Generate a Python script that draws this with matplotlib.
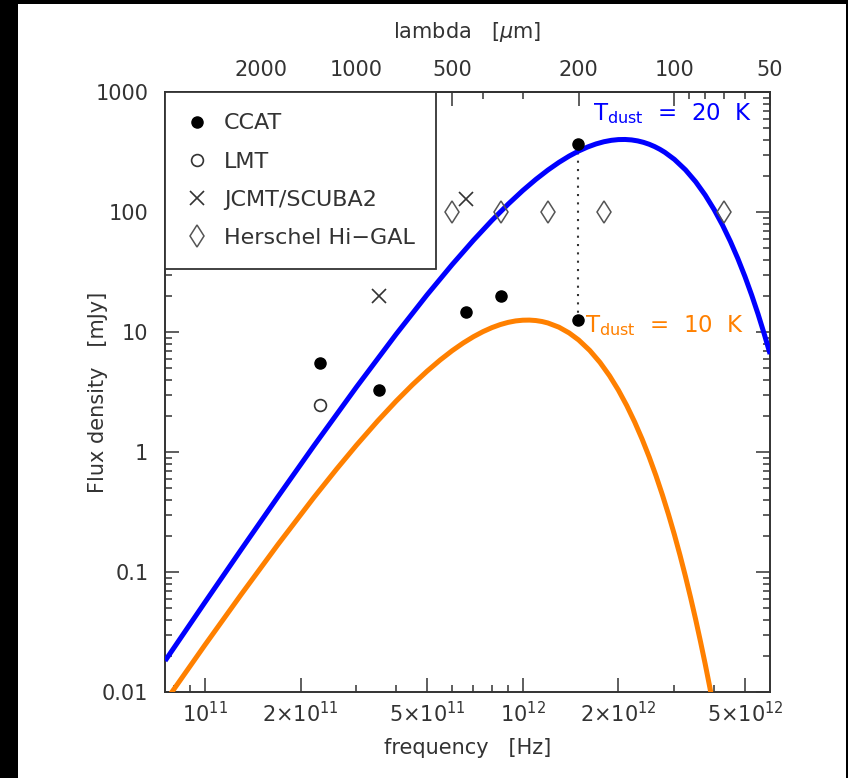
import matplotlib
matplotlib.use("Agg")
import matplotlib.pyplot as plt
from matplotlib.patches import Rectangle
from matplotlib.ticker import LogLocator, NullFormatter

plt.rcParams['font.family'] = ['DejaVu Sans']
plt.rcParams['mathtext.fontset'] = 'dejavusans'

TXT = '#333333'

# measured points (frequency in Hz, flux density in mJy)
ccat_freq = [2.30e11, 3.52e11, 6.63e11, 8.53e11, 1.49e12, 1.49e12]
ccat_flux = [5.5, 3.3, 14.9, 20.0, 369, 12.7]
lmt_freq = [2.30e11]
lmt_flux = [2.5]
jcmt_freq = [3.52e11, 6.63e11]
jcmt_flux = [20.1, 129]
hers_freq = [6.0e11, 8.53e11, 1.2e12, 1.8e12, 4.3e12]
hers_flux = [100, 100, 100, 100, 100]

# modified blackbody curves
t20_freq = [7.5e10, 1.0e11, 1.3e11, 1.7e11, 2.2e11, 3.0e11, 4.0e11, 5.0e11, 6.0e11,
            7.0e11, 8.0e11, 9.0e11, 1.0e12, 1.1e12, 1.2e12, 1.3e12, 1.4e12, 1.5e12,
            1.6e12, 1.7e12, 1.8e12, 1.9e12, 2.0e12, 2.1e12, 2.2e12, 2.3e12, 2.4e12,
            2.5e12, 2.6e12, 2.7e12, 2.8e12, 3.0e12, 3.25e12, 3.5e12, 3.75e12, 4.0e12,
            4.25e12, 4.5e12, 4.75e12, 5.0e12, 5.25e12, 5.5e12, 5.75e12, 6.0e12]
t20_flux = [0.0183, 0.0560, 0.154, 0.428, 1.126, 3.50, 9.66, 20.5, 36.7,
            58.5, 85.6, 117.0, 151.7, 188.1, 224.9, 260.7, 294.2, 324.3,
            350.1, 371.2, 387.2, 397.9, 403.6, 404.5, 401.0, 393.5, 382.6,
            368.9, 352.8, 335.0, 316.0, 276.0, 225.9, 179.6, 139.1, 105.4,
            78.3, 57.2, 41.15, 29.2, 20.44, 14.16, 9.70, 6.59]
t10_freq = [7.5e10, 8.0e10, 1.0e11, 1.3e11, 1.7e11, 2.2e11, 2.6e11, 3.0e11, 3.5e11,
            4.0e11, 4.5e11, 5.0e11, 5.5e11, 6.0e11, 6.5e11, 7.0e11, 7.5e11, 8.0e11,
            8.5e11, 9.0e11, 9.5e11, 1.0e12, 1.05e12, 1.1e12, 1.15e12, 1.2e12, 1.3e12,
            1.4e12, 1.5e12, 1.625e12, 1.75e12, 1.875e12, 2.0e12, 2.125e12, 2.25e12,
            2.375e12, 2.5e12, 2.625e12, 2.75e12, 2.875e12, 3.0e12, 3.125e12, 3.25e12,
            3.375e12, 3.5e12, 3.625e12, 3.75e12, 3.875e12, 4.0e12]
t10_flux = [0.00832, 0.01064, 0.0247, 0.0651, 0.171, 0.418, 0.727, 1.147, 1.829,
            2.674, 3.656, 4.739, 5.879, 7.030, 8.148, 9.193, 10.13, 10.94,
            11.60, 12.10, 12.44, 12.61, 12.64, 12.53, 12.30, 11.96, 11.03,
            9.875, 8.624, 7.059, 5.611, 4.347, 3.295, 2.448, 1.788,
            1.286, 0.912, 0.639, 0.442, 0.303, 0.206, 0.1386, 0.0925,
            0.0613, 0.0404, 0.0264, 0.0172, 0.0111, 0.00714]

x_ticks = [1e11, 2e11, 5e11, 1e12, 2e12, 5e12]
x_labels = [r'$10^{11}$', r'$2{\times}10^{11}$', r'$5{\times}10^{11}$',
            r'$10^{12}$', r'$2{\times}10^{12}$', r'$5{\times}10^{12}$']
y_ticks = [0.01, 0.1, 1, 10, 100, 1000]
y_labels = ['0.01', '0.1', '1', '10', '100', '1000']
lam_ticks = [2000, 1000, 500, 200, 100, 50]

C_UM = 2.998e14  # speed of light in micron/s

fig = plt.figure(figsize=(8.48, 7.78), dpi=100)
fig.patch.set_facecolor('black')
fig.patches.append(Rectangle((18 / 848, 0), 828 / 848, 774 / 778, transform=fig.transFigure,
                             facecolor='white', edgecolor='none', zorder=-10))

ax = fig.add_axes([165 / 848, 1 - 692.3 / 778, 605 / 848, 600 / 778])
ax.set_xscale('log')
ax.set_yscale('log')
ax.set_xlim(C_UM / 4000, C_UM / 50)
ax.set_ylim(0.01, 1000)

ax.plot(t20_freq, t20_flux, color='#0000ff', lw=3.6, solid_capstyle='butt',
        solid_joinstyle='round', zorder=3)
ax.plot(t10_freq, t10_flux, color='#ff8000', lw=3.6, solid_capstyle='butt',
        solid_joinstyle='round', zorder=3)
ax.plot([ccat_freq[4], ccat_freq[5]], [ccat_flux[4], ccat_flux[5]], color='#333333',
        lw=1.5, ls=(0, (1, 3)), zorder=2)

ax.plot(ccat_freq, ccat_flux, 'o', ms=8, color='black', ls='none', label='CCAT', zorder=5)
ax.plot(lmt_freq, lmt_flux, 'o', ms=8.5, mfc='white', mec='#333333', mew=1.2, ls='none',
        label='LMT', zorder=5)
ax.plot(jcmt_freq, jcmt_flux, 'x', ms=10, color='#333333', mew=1.2, ls='none',
        label='JCMT/SCUBA2', zorder=5)
ax.plot(hers_freq, hers_flux, 'd', ms=11.5, mfc='none', mec='#555555', mew=1.1, ls='none',
        label='Herschel Hi\u2212GAL', zorder=5)

leg = ax.legend(loc='upper left', bbox_to_anchor=(0, 1), borderaxespad=0, fontsize=16,
                frameon=True, fancybox=False, edgecolor='#333333', framealpha=1,
                borderpad=0.95, labelspacing=0.82, handlelength=1.0, handletextpad=0.7)
leg.get_frame().set_linewidth(1.3)
for t in leg.get_texts():
    t.set_color(TXT)

ax.set_xticks(x_ticks)
ax.set_xticklabels(x_labels)
ax.xaxis.set_minor_locator(LogLocator(base=10, subs=range(2, 10), numticks=20))
ax.xaxis.set_minor_formatter(NullFormatter())
ax.set_yticks(y_ticks)
ax.set_yticklabels(y_labels)
ax.yaxis.set_minor_locator(LogLocator(base=10, subs=range(2, 10), numticks=20))
ax.yaxis.set_minor_formatter(NullFormatter())

ax.tick_params(which='both', direction='in', colors='#333333', labelcolor=TXT,
               labelsize=15, width=1.1, top=False, right=True)
ax.tick_params(which='major', length=10)
ax.tick_params(which='minor', length=5)
ax.tick_params(axis='y', pad=12)
ax.tick_params(axis='x', pad=6)
for s in ax.spines.values():
    s.set_linewidth(1.4)
    s.set_color('#333333')

sec = ax.secondary_xaxis('top', functions=(lambda f: C_UM / f, lambda l: C_UM / l))
sec.set_xticks(lam_ticks)
sec.set_xticklabels([str(v) for v in lam_ticks])
sec.xaxis.set_minor_locator(LogLocator(base=10, subs=range(2, 10), numticks=20))
sec.xaxis.set_minor_formatter(NullFormatter())
sec.tick_params(which='both', direction='in', colors='#333333', labelcolor=TXT,
                labelsize=15, width=1.1, pad=9)
sec.tick_params(which='major', length=10)
sec.tick_params(which='minor', length=5)
sec.spines['top'].set_linewidth(1.4)
sec.spines['top'].set_color('#333333')

ax.set_xlabel('frequency   [Hz]', fontsize=15, color=TXT)
ax.xaxis.set_label_coords(0.5, -0.093)
ax.xaxis.label.set_va('center')
ax.set_ylabel('Flux density   [mJy]', fontsize=15, color=TXT)
ax.yaxis.set_label_coords(-0.111, 0.5)
ax.yaxis.label.set_va('center')
sec.set_xlabel(r'lambda   [$\mu$m]', fontsize=15, color=TXT, labelpad=16)

ax.text(0.970, 0.954, r'T$_{\mathregular{dust}}$  =  20  K', transform=ax.transAxes,
        ha='right', va='baseline', fontsize=16.5, color='#0000ff')
ax.text(0.694, 0.600, r'T$_{\mathregular{dust}}$  =  10  K', transform=ax.transAxes,
        ha='left', va='baseline', fontsize=16.5, color='#ff8000')

fig.savefig('out.png', dpi=100, facecolor=fig.get_facecolor())
